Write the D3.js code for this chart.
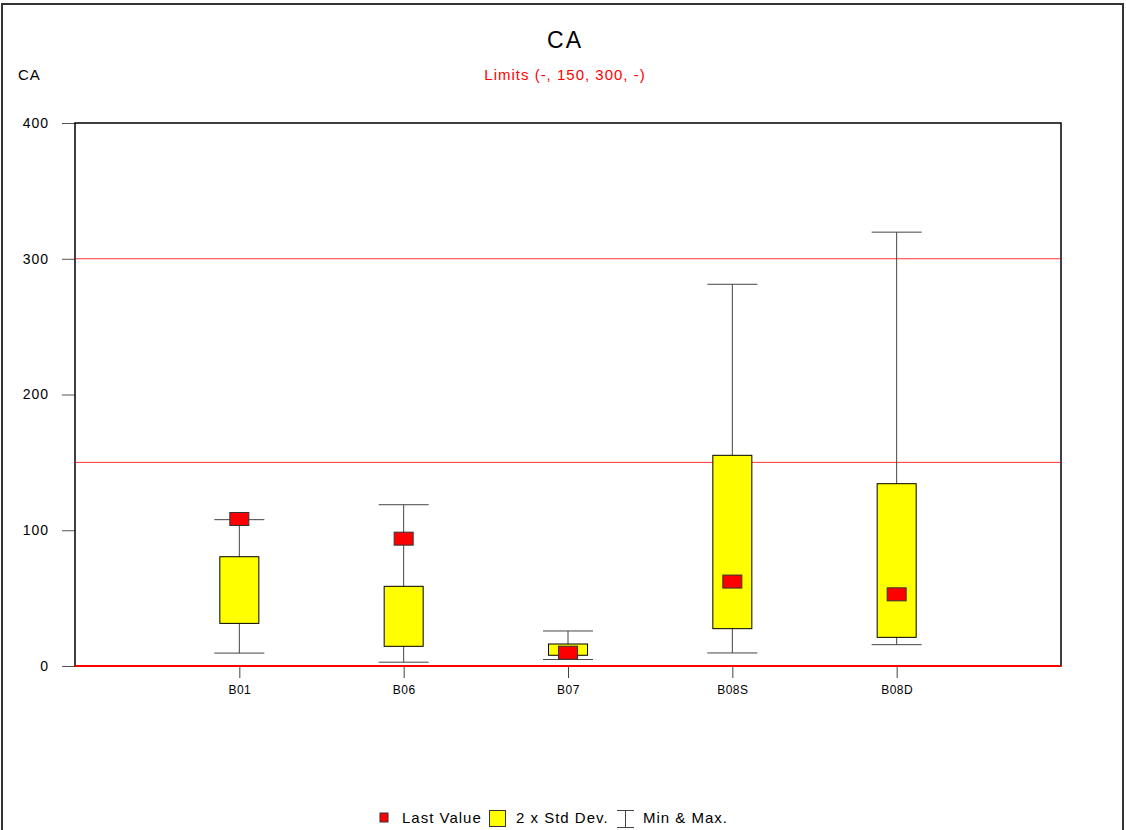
<!DOCTYPE html>
<html>
<head>
<meta charset="utf-8">
<script src="https://cdn.jsdelivr.net/npm/d3@7"></script>
<style>
  body { margin: 0; background: #fff; }
  svg { font-family: "Liberation Sans", Arial, sans-serif; }
</style>
</head>
<body>
<svg id="box-chart" width="1126" height="830"></svg>
<script>
// chart data
const stations = ["B01", "B06", "B07", "B08S", "B08D"]
const minValues = [9.5, 2.8, 4.8, 9.6, 15.7]
const maxValues = [107.8, 118.8, 25.8, 281.2, 319.6]
const stdLow = [31.4, 14.5, 7.9, 27.5, 21.1]
const stdHigh = [80.5, 58.7, 16.2, 155.2, 134.3]
const lastValues = [108.3, 93.8, 9.8, 62.2, 52.8]
const limits = [150, 300]
const yTicks = [0, 100, 200, 300, 400]

let svg = d3.select("#box-chart")
let width = 1126, height = 830
let margin = { top: 123, right: 65, bottom: 164, left: 75 }

let data = stations.map((s, i) => ({
  name: s, i: i, min: minValues[i], max: maxValues[i],
  lo: stdLow[i], hi: stdHigh[i], last: lastValues[i]
}))

let x = d3.scaleLinear()
  .domain([0, stations.length + 1])
  .range([margin.left, width - margin.right])

let y = d3.scaleLinear()
  .domain([0, 400])
  .range([height - margin.bottom, margin.top])

// outer frame
svg.append("path")
  .attr("d", `M2,830 L2,4 L1123,4 L1123,830`)
  .style("fill", "none")
  .style("stroke", "#333")
  .style("stroke-width", "2px")

// titles
svg.append("text")
  .attr("x", 565).attr("y", 48)
  .attr("text-anchor", "middle")
  .style("font-size", "23px")
  .style("letter-spacing", "2px")
  .text("CA")

svg.append("text")
  .attr("x", 565).attr("y", 80)
  .attr("text-anchor", "middle")
  .style("font-size", "15px")
  .style("letter-spacing", "1px")
  .style("fill", "#ff0000")
  .text("Limits (-, 150, 300, -)")

svg.append("text")
  .attr("x", 18).attr("y", 80)
  .style("font-size", "15px")
  .style("letter-spacing", "1px")
  .text("CA")

// y axis
let yAxis = svg.append("g")
  .attr("transform", `translate(${margin.left},0)`)
  .call(d3.axisLeft(y).tickValues(yTicks).tickSize(13).tickPadding(13))
yAxis.select(".domain").remove()
yAxis.selectAll(".tick line").style("stroke", "#555")
yAxis.selectAll(".tick text")
  .style("font-size", "14px")
  .style("letter-spacing", "1px")
  .style("font-family", "Liberation Sans, Arial, sans-serif")
  .style("fill", "#000")

// x axis
let xAxis = svg.append("g")
  .attr("transform", `translate(0,${y(0)})`)
  .call(d3.axisBottom(x)
    .tickValues(stations.map((s, i) => i + 1))
    .tickFormat(d => stations[d - 1])
    .tickSize(12).tickPadding(7))
xAxis.select(".domain").remove()
xAxis.selectAll(".tick line").style("stroke", "#444")
xAxis.selectAll(".tick text")
  .style("font-size", "12px")
  .style("letter-spacing", "0.5px")
  .style("font-family", "Liberation Sans, Arial, sans-serif")
  .style("fill", "#000")

// plot frame
svg.append("rect")
  .attr("x", margin.left).attr("y", margin.top)
  .attr("width", width - margin.left - margin.right)
  .attr("height", height - margin.top - margin.bottom)
  .style("fill", "none")
  .style("stroke", "#000")
  .style("stroke-width", "1.5px")

// limit lines
svg.append("g").selectAll("line")
  .data(limits.concat([0]))
  .join("line")
  .attr("x1", margin.left).attr("x2", width - margin.right)
  .attr("y1", d => y(d)).attr("y2", d => y(d))
  .style("stroke", "#ff0000")
  .style("stroke-width", d => d == 0 ? "2px" : "1px")
  .style("stroke-opacity", d => d == 0 ? 1 : 0.8)

let boxW = 39, capW = 50, sqW = 19, sqH = 13

let g = svg.append("g").selectAll("g")
  .data(data)
  .join("g")

// whisker
g.append("line")
  .attr("x1", d => x(d.i + 1)).attr("x2", d => x(d.i + 1))
  .attr("y1", d => y(d.min)).attr("y2", d => y(d.max))
  .style("stroke", "#444")
g.append("line")
  .attr("x1", d => x(d.i + 1) - capW / 2).attr("x2", d => x(d.i + 1) + capW / 2)
  .attr("y1", d => y(d.max)).attr("y2", d => y(d.max))
  .style("stroke", "#444")
g.append("line")
  .attr("x1", d => x(d.i + 1) - capW / 2).attr("x2", d => x(d.i + 1) + capW / 2)
  .attr("y1", d => y(d.min)).attr("y2", d => y(d.min))
  .style("stroke", "#444")

// std dev box
g.append("rect")
  .attr("x", d => x(d.i + 1) - boxW / 2)
  .attr("y", d => y(d.hi))
  .attr("width", boxW)
  .attr("height", d => y(d.lo) - y(d.hi))
  .style("fill", "#ffff00")
  .style("stroke", "#000")

// last value
g.append("rect")
  .attr("x", d => x(d.i + 1) - sqW / 2)
  .attr("y", d => y(d.last) - sqH / 2)
  .attr("width", sqW).attr("height", sqH)
  .style("fill", "#ff0000")
  .style("stroke", "#333")

// legend
let legend = svg.append("g")
  .style("font-size", "15px")
  .style("letter-spacing", "1px")
legend.append("rect")
  .attr("x", 380).attr("y", 813).attr("width", 8).attr("height", 9)
  .style("fill", "#ff0000").style("stroke", "#333")
legend.append("text").attr("x", 402).attr("y", 823)
  .text("Last Value")
legend.append("rect")
  .attr("x", 489.5).attr("y", 810.5).attr("width", 16).attr("height", 16)
  .style("fill", "#ffff00").style("stroke", "#333")
legend.append("text").attr("x", 516).attr("y", 823)
  .text("2 x Std Dev.")
legend.append("path")
  .attr("d", "M617,810.5 H634 M625.5,810.5 V827.5 M617,827.5 H634")
  .style("stroke", "#444").style("fill", "none")
legend.append("text").attr("x", 643).attr("y", 823)
  .text("Min & Max.")
</script>
</body>
</html>
